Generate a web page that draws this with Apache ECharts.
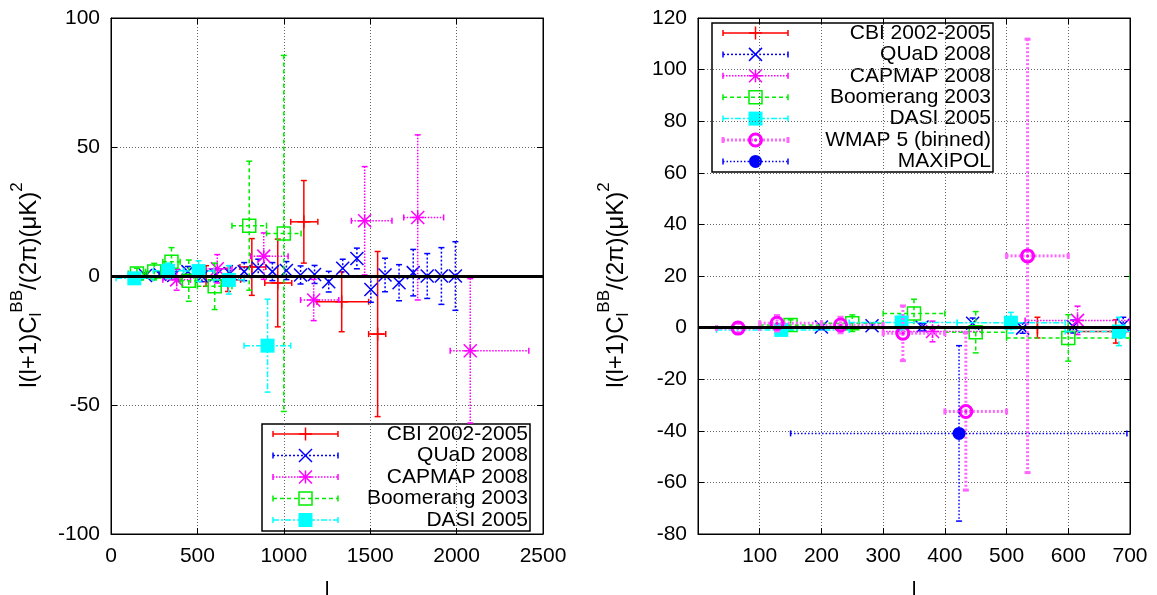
<!DOCTYPE html>
<html>
<head>
<meta charset="utf-8">
<script src="https://cdn.jsdelivr.net/npm/echarts@6/dist/echarts.min.js"></script>
<style>
html, body { margin: 0; padding: 0; background: #fff; }
#chart { width: 1157px; height: 595px; }
</style>
</head>
<body>
<div id="chart"></div>
<script>
// CBI 2002-2005
const cbiL = [550, 677, 815, 965, 1116, 1335, 1543]
const cbiV = [0, -1.5, 3.5, -2.7, 21, -10, -22.5]
const cbiErr = [4, 4.5, 11, 17, 16, 11.6, 32]
const cbiLo = [500, 600, 746, 890, 1040, 1191, 1491]
const cbiHi = [600, 750, 896, 1046, 1197, 1491, 1590]

// QUaD 2008 (no l-range bars)
const quadL = [200, 282, 363, 445, 526, 608, 689, 771, 852, 934, 1015, 1097, 1178, 1260, 1341, 1423, 1504, 1586, 1667, 1749, 1830, 1912, 1993]
const quadV = [0.2, 0.7, 0.2, 1.7, -0.2, 0.4, 1.0, 1.7, 3.0, 1.7, 2.1, 0.4, 0.6, -2.2, 3.0, 6.8, -5.2, 0.4, -2.6, 1.3, 0, 0, 0]
const quadErr = [1, 1, 1.5, 2, 2, 2.5, 3, 3.5, 3.5, 3.5, 3.5, 3.5, 3.5, 4, 3.5, 4, 5, 6.5, 7, 9, 8.7, 11, 13.3]

// CAPMAP 2008
const capL = [380, 615, 884, 1173, 1468, 1775, 2079]
const capV = [-1.5, 2.8, 7.7, -9.3, 21.4, 22.7, -29]
const capErr = [4, 5.5, 9, 8, 21, 32, 28]
const capLo = [300, 530, 808, 1097, 1391, 1694, 1963]
const capHi = [460, 700, 1025, 1318, 1626, 1925, 2418]

// Boomerang 2003
const boomL = [150, 250, 350, 450, 600, 800, 1000]
const boomV = [1, 1.7, 5.5, -1.8, -4, 19.5, 16.5]
const boomErr = [2, 3.2, 5.5, 8, 9, 25, 69]
const boomLo = [100, 200, 300, 400, 500, 700, 900]
const boomHi = [200, 300, 400, 500, 700, 900, 1100]

// DASI 2005
const dasiL = [135, 330, 507, 682, 906]
const dasiV = [-0.9, 2, 1.9, -1.5, -27]
const dasiErr = [2, 3, 4, 5.5, 18]
const dasiLo = [30, 245, 420, 595, 770]
const dasiHi = [245, 420, 595, 770, 1040]

// WMAP 5 (binned), right panel only
const wmapL = [65, 128, 231, 332, 434, 534]
const wmapV = [-0.2, 1.7, 1, -2.2, -32.5, 27.8]
const wmapErr = [2, 3, 3, 10.6, 30.5, 84]
const wmapLo = [30, 100, 200, 300, 400, 500]
const wmapHi = [100, 200, 300, 400, 500, 600]

// MAXIPOL, right panel only
const maxiL = [423]
const maxiV = [-41]
const maxiErr = [34]
const maxiLo = [150]
const maxiHi = [695]

const leftXTicks = [0, 2500, 500]
const leftYTicks = [-100, 100, 50]
const rightXTicks = [0, 700, 100]
const rightYTicks = [-80, 120, 20]

const FONT = '"Liberation Sans", Arial, Helvetica, sans-serif'

const sets = {
    cbi:  { name: 'CBI 2002-2005', color: '#ff0000', width: 1.5, dash: null, marker: 'plus', l: cbiL, v: cbiV, e: cbiErr, lo: cbiLo, hi: cbiHi },
    quad: { name: 'QUaD 2008', color: '#0000ff', width: 1.5, dash: [2, 2], marker: 'cross', l: quadL, v: quadV, e: quadErr },
    cap:  { name: 'CAPMAP 2008', color: '#ff00ff', width: 1.5, dash: [1.5, 1.5], marker: 'star', l: capL, v: capV, e: capErr, lo: capLo, hi: capHi },
    boom: { name: 'Boomerang 2003', color: '#00ee00', width: 1.5, dash: [4, 3], marker: 'box', l: boomL, v: boomV, e: boomErr, lo: boomLo, hi: boomHi },
    dasi: { name: 'DASI 2005', color: '#00ffff', width: 1.5, dash: [6, 2, 2, 2], marker: 'fbox', l: dasiL, v: dasiV, e: dasiErr, lo: dasiLo, hi: dasiHi },
    wmap: { name: 'WMAP 5 (binned)', color: '#ff00ff', barColor: '#ff66ff', width: 3, dash: [2, 2], marker: 'ring', l: wmapL, v: wmapV, e: wmapErr, lo: wmapLo, hi: wmapHi },
    maxi: { name: 'MAXIPOL', color: '#0000ff', width: 1.5, dash: [1.5, 2], marker: 'dot', l: maxiL, v: maxiV, e: maxiErr, lo: maxiLo, hi: maxiHi }
}

function markerShapes(kind, cx, cy, color) {
    const h = 6.5
    const ln = (x1, y1, x2, y2) => ({ type: 'line', shape: { x1, y1, x2, y2 }, style: { stroke: color, lineWidth: 1.5 } })
    const plus = [ln(cx - h, cy, cx + h, cy), ln(cx, cy - h, cx, cy + h)]
    const cross = [ln(cx - h, cy - h, cx + h, cy + h), ln(cx - h, cy + h, cx + h, cy - h)]
    if (kind === 'plus') return plus
    if (kind === 'cross') return cross
    if (kind === 'star') return plus.concat(cross)
    if (kind === 'box') return [{ type: 'rect', shape: { x: cx - h, y: cy - h, width: 2 * h, height: 2 * h }, style: { fill: 'none', stroke: color, lineWidth: 1.5 } }]
    if (kind === 'fbox') return [{ type: 'rect', shape: { x: cx - 7, y: cy - 7, width: 14, height: 14 }, style: { fill: color } }]
    if (kind === 'ring') return [
        { type: 'circle', shape: { cx, cy, r: 6 }, style: { fill: 'none', stroke: color, lineWidth: 3 } },
        { type: 'circle', shape: { cx, cy, r: 1.5 }, style: { fill: color } }
    ]
    if (kind === 'dot') return [{ type: 'circle', shape: { cx, cy, r: 6.5 }, style: { fill: color } }]
    return []
}

function barLines(st, x1, y1, x2, y2) {
    return { type: 'line', shape: { x1, y1, x2, y2 }, style: { stroke: st.barColor || st.color, lineWidth: st.width, lineDash: st.dash } }
}

function capLine(st, x1, y1, x2, y2) {
    return { type: 'line', shape: { x1, y1, x2, y2 }, style: { stroke: st.barColor || st.color, lineWidth: st.width } }
}

function makeRenderer(st) {
    return function (params, api) {
        const l = api.value(0), v = api.value(1), e = api.value(2)
        const c = api.coord([l, v])
        const t = api.coord([l, v + e])
        const b = api.coord([l, v - e])
        const kids = [
            barLines(st, c[0], t[1], c[0], b[1]),
            capLine(st, c[0] - 3, t[1], c[0] + 3, t[1]),
            capLine(st, c[0] - 3, b[1], c[0] + 3, b[1])
        ]
        if (st.lo) {
            const a = api.coord([api.value(3), v])
            const z = api.coord([api.value(4), v])
            kids.push(barLines(st, a[0], c[1], z[0], c[1]))
            kids.push(capLine(st, a[0], c[1] - 3, a[0], c[1] + 3))
            kids.push(capLine(st, z[0], c[1] - 3, z[0], c[1] + 3))
        }
        return { type: 'group', children: kids.concat(markerShapes(st.marker, c[0], c[1], st.color)) }
    }
}

function seriesFor(key, axis) {
    const st = sets[key]
    const data = st.l.map((l, i) => st.lo ? [l, st.v[i], st.e[i], st.lo[i], st.hi[i]] : [l, st.v[i], st.e[i]])
    return {
        type: 'custom', name: st.name, xAxisIndex: axis, yAxisIndex: axis,
        clip: true, renderItem: makeRenderer(st), data: data, silent: true
    }
}

function zeroLine(axis) {
    return {
        type: 'line', xAxisIndex: axis, yAxisIndex: axis, data: [], silent: true,
        markLine: { silent: true, symbol: 'none', label: { show: false },
            lineStyle: { color: '#000', width: 3, type: 'solid' }, data: [{ yAxis: 0 }] }
    }
}

function xAxisFor(grid, ticks, mirror, hideMin) {
    return {
        type: 'value', gridIndex: grid, min: ticks[0], max: ticks[1], interval: ticks[2],
        position: mirror ? 'top' : 'bottom',
        name: mirror ? '' : 'l', nameLocation: 'middle', nameGap: 46,
        nameTextStyle: { fontFamily: FONT, fontSize: 21, color: '#000' },
        axisLine: { show: true, onZero: false, lineStyle: { color: '#000', width: 1 } },
        axisTick: { show: true, inside: true, length: 6, lineStyle: { color: '#000' } },
        axisLabel: { show: !mirror, showMinLabel: !hideMin, fontFamily: FONT, fontSize: 21, color: '#000', margin: 12,
            formatter: v => String(v) },
        splitLine: { show: !mirror, lineStyle: { color: '#666', width: 1, type: [1, 2] } }
    }
}

function yAxisFor(grid, ticks, mirror) {
    return {
        type: 'value', gridIndex: grid, min: ticks[0], max: ticks[1], interval: ticks[2],
        position: mirror ? 'right' : 'left',
        axisLine: { show: true, onZero: false, lineStyle: { color: '#000', width: 1 } },
        axisTick: { show: true, inside: true, length: 6, lineStyle: { color: '#000' } },
        axisLabel: { show: !mirror, fontFamily: FONT, fontSize: 21, color: '#000', margin: 11,
            formatter: v => String(v) },
        splitLine: { show: !mirror, lineStyle: { color: '#666', width: 1, type: [1, 2] } }
    }
}

function yName(x, y) {
    return {
        type: 'text', x: x, y: y, rotation: Math.PI / 2, silent: true,
        style: {
            text: '{a|l(l+1)C}{sub|l}{sup|BB}{a|/(2π)(μK)}{sup|2}',
            align: 'center', verticalAlign: 'middle', fill: '#000',
            rich: {
                a: { fontFamily: FONT, fontSize: 24, verticalAlign: 'bottom', lineHeight: 36, padding: [0, 0, 4, 0] },
                sub: { fontFamily: FONT, fontSize: 17, verticalAlign: 'bottom', lineHeight: 36 },
                sup: { fontFamily: FONT, fontSize: 17, verticalAlign: 'top', lineHeight: 36 }
            }
        }
    }
}

function legendBox(x, y, w, h, keys, x1, x2, textRight, rowY, dy) {
    const els = [{ type: 'rect', shape: { x, y, width: w, height: h }, style: { fill: '#fff', stroke: '#000', lineWidth: 1.5 } }]
    keys.forEach((k, i) => {
        const st = sets[k]
        const yy = rowY + i * dy
        const mx = (x1 + x2) / 2
        els.push(barLines(st, x1, yy, x2, yy))
        els.push(capLine(st, x1, yy - 3, x1, yy + 3))
        els.push(capLine(st, x2, yy - 3, x2, yy + 3))
        markerShapes(st.marker, mx, yy, st.color).forEach(m => els.push(m))
        els.push({ type: 'text', x: textRight, y: yy, style: { text: st.name, fontFamily: FONT, fontSize: 21, fill: '#000', align: 'right', verticalAlign: 'middle' } })
    })
    return els
}

const chart = echarts.init(document.getElementById('chart'), null, { renderer: 'canvas' })

const leftKeys = ['cbi', 'quad', 'cap', 'boom', 'dasi']
const rightKeys = ['cbi', 'quad', 'cap', 'boom', 'dasi', 'wmap', 'maxi']

const option = {
    animation: false,
    backgroundColor: '#fff',
    grid: [
        { left: 111, top: 18, width: 432, height: 516, show: true, borderColor: '#000', borderWidth: 1, outerBoundsMode: 'none', containLabel: false },
        { left: 698, top: 18, width: 432, height: 516, show: true, borderColor: '#000', borderWidth: 1, outerBoundsMode: 'none', containLabel: false }
    ],
    xAxis: [
        xAxisFor(0, leftXTicks, false, false),
        xAxisFor(0, leftXTicks, true, false),
        xAxisFor(1, rightXTicks, false, true),
        xAxisFor(1, rightXTicks, true, true)
    ],
    yAxis: [
        yAxisFor(0, leftYTicks, false),
        yAxisFor(0, leftYTicks, true),
        yAxisFor(1, rightYTicks, false),
        yAxisFor(1, rightYTicks, true)
    ],
    series: [zeroLine(0)]
        .concat(leftKeys.map(k => seriesFor(k, 0)))
        .concat([zeroLine(2)])
        .concat(rightKeys.map(k => seriesFor(k, 2))),
    graphic: [yName(27, 285), yName(614, 285)]
        .concat(legendBox(262, 424, 268, 107, leftKeys, 273, 338, 528, 434, 21.5))
        .concat(legendBox(712, 23, 281, 149, rightKeys, 723, 788, 991, 33, 21.4))
}

chart.setOption(option)
</script>
</body>
</html>
